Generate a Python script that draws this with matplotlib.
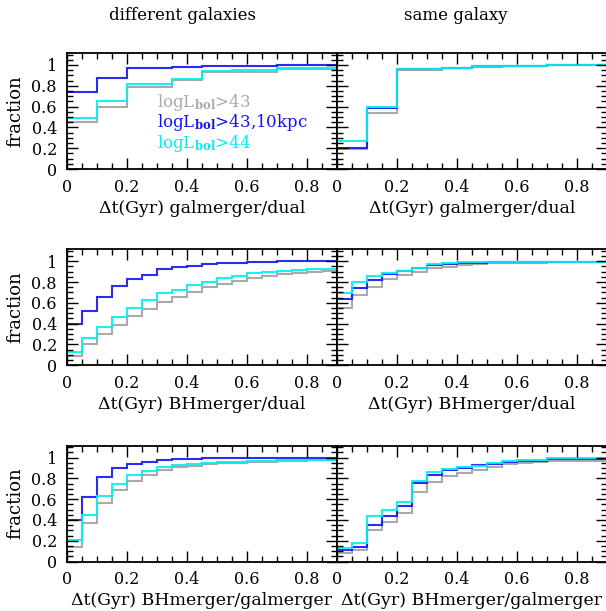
import matplotlib
matplotlib.use("Agg")
import matplotlib.pyplot as plt
from matplotlib.ticker import MultipleLocator

plt.rcParams["font.family"] = "DejaVu Serif"
plt.rcParams["mathtext.fontset"] = "dejavuserif"

# step edges (Gyr)
edges_top = [0, 0.1, 0.2, 0.35, 0.45, 0.55, 0.7, 0.9]
edges_fine = [0, 0.05, 0.1, 0.15, 0.2, 0.25, 0.3, 0.35, 0.4, 0.45,
              0.5, 0.55, 0.6, 0.65, 0.7, 0.75, 0.8, 0.85, 0.9]

# row 1: galmerger/dual
gal_diff_43 = [0.455, 0.593, 0.785, 0.853, 0.93, 0.935, 0.958]
gal_diff_43k = [0.737, 0.872, 0.968, 0.982, 0.99, 0.992, 1.0]
gal_diff_44 = [0.493, 0.657, 0.817, 0.865, 0.945, 0.95, 0.968]
gal_same_43 = [0.189, 0.541, 0.955, 0.968, 0.985, 0.99, 0.997]
gal_same_43k = [0.199, 0.583, 0.958, 0.971, 0.99, 0.993, 0.998]
gal_same_44 = [0.272, 0.599, 0.962, 0.972, 0.99, 0.993, 0.998]

# row 2: BHmerger/dual
bhd_diff_43 = [0.089, 0.202, 0.304, 0.39, 0.474, 0.541, 0.609, 0.66, 0.705,
               0.75, 0.785, 0.81, 0.837, 0.859, 0.878, 0.89, 0.9, 0.91]
bhd_diff_43k = [0.394, 0.525, 0.654, 0.76, 0.83, 0.871, 0.923, 0.942, 0.958,
                0.974, 0.98, 0.983, 0.99, 0.99, 0.998, 0.998, 0.998, 0.998]
bhd_diff_44 = [0.131, 0.262, 0.365, 0.46, 0.551, 0.625, 0.692, 0.727, 0.769,
               0.804, 0.837, 0.859, 0.885, 0.897, 0.91, 0.916, 0.926, 0.926]
bhd_same_43 = [0.554, 0.679, 0.756, 0.827, 0.871, 0.9, 0.933, 0.948, 0.96,
               0.97, 0.98, 0.98, 0.987, 0.987, 0.993, 0.993, 0.993, 0.993]
bhd_same_43k = [0.637, 0.746, 0.817, 0.88, 0.91, 0.936, 0.964, 0.977, 0.983,
                0.983, 0.99, 0.99, 0.995, 0.995, 0.995, 0.995, 0.995, 0.995]
bhd_same_44 = [0.692, 0.80, 0.859, 0.89, 0.91, 0.936, 0.977, 0.987, 0.997,
               0.997, 0.997, 0.997, 0.997, 0.997, 0.997, 0.997, 0.997, 0.997]

# row 3: BHmerger/galmerger
bhg_diff_43 = [0.143, 0.368, 0.56, 0.688, 0.775, 0.836, 0.878, 0.907, 0.923,
               0.939, 0.951, 0.951, 0.958, 0.958, 0.967, 0.967, 0.977, 0.977]
bhg_diff_43k = [0.40, 0.624, 0.816, 0.903, 0.941, 0.96, 0.977, 0.983, 0.983,
                0.993, 0.993, 0.997, 0.997, 0.997, 1.0, 1.0, 1.0, 1.0]
bhg_diff_44 = [0.205, 0.445, 0.634, 0.743, 0.836, 0.871, 0.907, 0.926, 0.939,
               0.951, 0.958, 0.958, 0.967, 0.967, 0.974, 0.974, 0.98, 0.98]
bhg_same_43 = [0.08, 0.112, 0.304, 0.381, 0.464, 0.672, 0.762, 0.826, 0.852,
               0.881, 0.913, 0.939, 0.951, 0.958, 0.97, 0.97, 0.97, 0.97]
bhg_same_43k = [0.112, 0.143, 0.355, 0.435, 0.532, 0.759, 0.833, 0.878, 0.9,
                0.926, 0.939, 0.961, 0.97, 0.97, 0.983, 0.983, 0.983, 0.983]
bhg_same_44 = [0.131, 0.182, 0.438, 0.499, 0.573, 0.772, 0.864, 0.893, 0.907,
               0.923, 0.948, 0.967, 0.977, 0.977, 0.993, 0.993, 0.993, 0.993]

col_43 = "#aaaaaa"
col_43k = "#1414f0"
col_44 = "#00f0f0"

legend_labels = [r"logL$_{\mathbf{bol}}$>43",
                 r"logL$_{\mathbf{bol}}$>43,10kpc",
                 r"logL$_{\mathbf{bol}}$>44"]

xlabels = ["\u0394t(Gyr) galmerger/dual",
           "\u0394t(Gyr) BHmerger/dual",
           "\u0394t(Gyr) BHmerger/galmerger"]

panels = [
    [(edges_top, gal_diff_43, gal_diff_43k, gal_diff_44),
     (edges_top, gal_same_43, gal_same_43k, gal_same_44)],
    [(edges_fine, bhd_diff_43, bhd_diff_43k, bhd_diff_44),
     (edges_fine, bhd_same_43, bhd_same_43k, bhd_same_44)],
    [(edges_fine, bhg_diff_43, bhg_diff_43k, bhg_diff_44),
     (edges_fine, bhg_same_43, bhg_same_43k, bhg_same_44)],
]

fig = plt.figure(figsize=(6.06, 6.11), dpi=100)

W, H = 606.0, 611.0
lefts = [66.7, 336.7]
tops = [53.0, 249.3, 445.6]
pw, ph = 270.0, 116.0

for r in range(3):
    for c in range(2):
        ax = fig.add_axes([lefts[c] / W, 1 - (tops[r] + ph) / H, pw / W, ph / H])
        edges, v43, v43k, v44 = panels[r][c]
        ax.stairs(v43, edges, color=col_43, lw=1.5, baseline=None)
        ax.stairs(v43k, edges, color=col_43k, lw=1.5, baseline=None, alpha=0.9)
        ax.stairs(v44, edges, color=col_44, lw=1.5, baseline=None, alpha=0.9)
        ax.set_xlim(0, 0.9)
        ax.set_ylim(0, 1.115)
        ax.xaxis.set_minor_locator(MultipleLocator(0.05))
        ax.yaxis.set_minor_locator(MultipleLocator(0.05))
        ax.tick_params(which="both", direction="in", top=True, right=True,
                       width=1.0, labelsize=11.5, pad=7)
        ax.tick_params(which="major", length=8)
        ax.tick_params(which="minor", length=4.5)
        for s in ax.spines.values():
            s.set_linewidth(1.3)
        ax.xaxis.set_ticks([0, 0.2, 0.4, 0.6, 0.8])
        ax.set_xticklabels(["0", "0.2", "0.4", "0.6", "0.8"])
        ax.yaxis.set_ticks([0, 0.2, 0.4, 0.6, 0.8, 1.0])
        if c == 0:
            ax.set_yticklabels(["0", "0.2", "0.4", "0.6", "0.8", "1"])
            ax.set_ylabel("fraction", fontsize=13, labelpad=5)
        else:
            ax.set_yticklabels([])
        ax.set_xlabel(xlabels[r], fontsize=12.5, labelpad=3)
        if r == 0 and c == 0:
            for txt, col, yy in zip(legend_labels, [col_43, col_43k, col_44],
                                    [0.538, 0.36, 0.178]):
                ax.text(0.333, yy, txt, color=col, fontsize=12,
                        transform=ax.transAxes, va="baseline", ha="left")
        if r == 0:
            ax.set_title(["different galaxies", "same galaxy"][c], fontsize=12,
                         pad=24, x=[0.43, 0.44][c])

fig.savefig("out.png", dpi=100)
